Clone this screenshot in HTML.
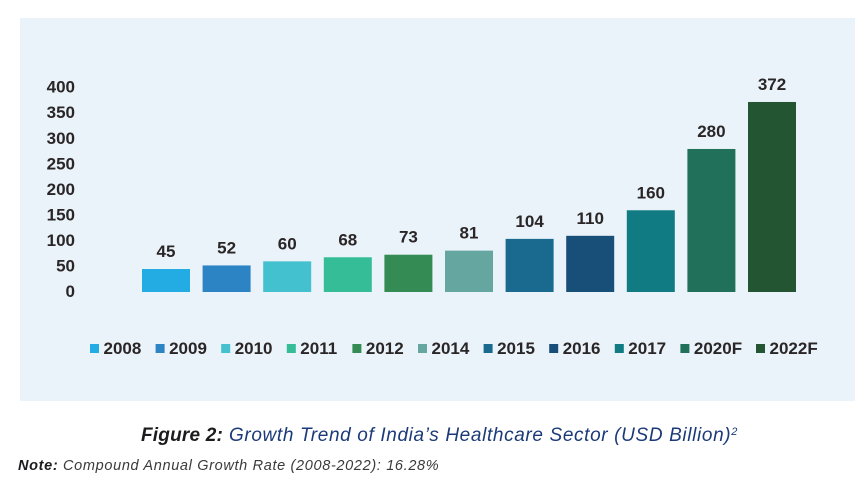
<!DOCTYPE html>
<html lang="en">
<head>
<meta charset="utf-8">
<title>Growth Trend of India's Healthcare Sector</title>
<style>
html,body{margin:0;padding:0;background:#fff;width:862px;height:482px;overflow:hidden}
svg{display:block}
text{font-family:"Liberation Sans",Arial,sans-serif}
.num{font-weight:bold;font-size:17px;fill:#2a2627}
.leg{font-weight:bold;font-size:17px;fill:#2a2627}
</style>
</head>
<body>
<svg id="chart" width="862" height="482" viewBox="0 0 862 482" xmlns="http://www.w3.org/2000/svg">
  <rect x="20" y="18" width="835" height="383" fill="#eaf3f9"/>
  <g id="y-axis"></g>
  <g id="bars"></g>
  <g id="labels"></g>
  <g id="legend"></g>
  <text x="141" y="441" font-size="19" font-style="italic" fill="#1b3a78" letter-spacing=".64"><tspan font-weight="bold" fill="#1c1c1e" letter-spacing=".2">Figure 2:</tspan> Growth Trend of India’s Healthcare Sector (USD Billion)<tspan font-size="11" dy="-6">2</tspan></text>
  <text x="18" y="470" font-size="14.5" font-style="italic" fill="#3a3a3c" letter-spacing=".66"><tspan font-weight="bold" fill="#1c1c1e">Note:</tspan> Compound Annual Growth Rate (2008-2022): 16.28%</text>
</svg>
<script>
const categories = ['2008','2009','2010','2011','2012','2014','2015','2016','2017','2020F','2022F'];
const values = [45,52,60,68,73,81,104,110,160,280,372];
const yTicks = [0,50,100,150,200,250,300,350,400];
const colors = ['#22ace3','#2d84c5','#44c1cf','#35bd97','#358b54','#65a6a1','#1a6a8f','#184f78','#107b82','#20705a','#235533'];

const NS = 'http://www.w3.org/2000/svg';
const yScale = v => 292 - v * 0.5108;
const xScale = i => 142 + i * 60.6;
const barWidth = 48;

function make(tag, attrs, parent, text) {
  const el = document.createElementNS(NS, tag);
  for (const k in attrs) el.setAttribute(k, attrs[k]);
  if (text !== undefined) el.textContent = text;
  parent.appendChild(el);
  return el;
}

const yAxis = document.getElementById('y-axis');
yTicks.forEach(t => {
  const el = make('text', {x: 75, y: yScale(t) + 5, 'text-anchor': 'end', class: 'num'}, yAxis, String(t));
  
  
});

const barsG = document.getElementById('bars');
const labelsG = document.getElementById('labels');
values.forEach((v, i) => {
  const bar = make('rect', {x: xScale(i), y: yScale(v), width: barWidth, height: yScale(0) - yScale(v), fill: colors[i]}, barsG);
  
  
  const label = make('text', {x: xScale(i) + barWidth / 2, y: yScale(v) - 12, 'text-anchor': 'middle', class: 'num'}, labelsG, String(v));
  
  
});

const legendG = document.getElementById('legend');
let legendX = 90;
categories.forEach((c, i) => {
  const swatch = make('rect', {x: legendX, y: 344, width: 9, height: 9, fill: colors[i]}, legendG);
  
  
  const text = make('text', {x: legendX + 13.5, y: 354, class: 'leg'}, legendG, c);
  
  
  legendX += 65.6 + (c.length - 4) * 10;
});
</script>
</body>
</html>
